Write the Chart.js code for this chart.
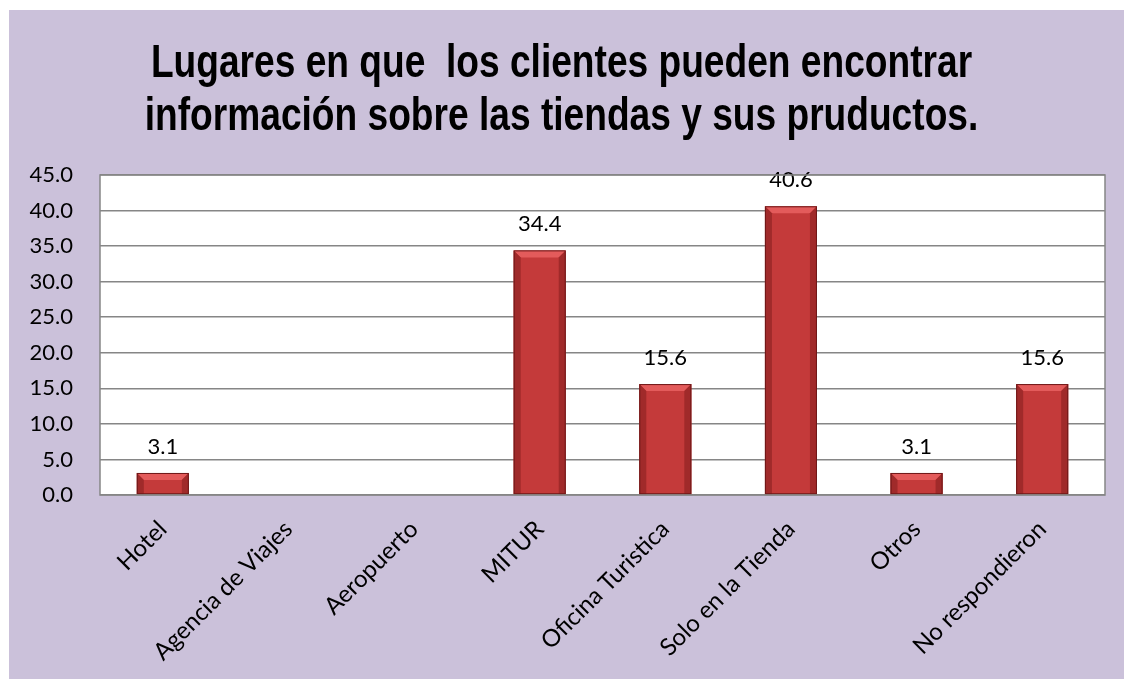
<!DOCTYPE html>
<html>
<head>
<meta charset="utf-8">
<script src="https://cdn.jsdelivr.net/npm/chart.js@4.4.1/dist/chart.umd.min.js"></script>
<style>
  html, body { margin: 0; padding: 0; background: #fff; }
  #wrap { position: absolute; left: 9px; top: 10px; width: 1115px; height: 669px; background: #CBC1DA; }
</style>
</head>
<body>
<div id="wrap"><canvas id="chart" width="1115" height="669"></canvas></div>
<script>
const categories = ['Hotel', 'Agencia de Viajes', 'Aeropuerto', 'MITUR', 'Oficina Turistica', 'Solo en la Tienda', 'Otros', 'No respondieron'];
const percentages = [3.1, 0, 0, 34.4, 15.6, 40.6, 3.1, 15.6];
const titleLines = ['Lugares en que  los clientes pueden encontrar', 'información sobre las tiendas y sus pruductos.'];

// white plot area with grey frame
const plotFrame = {
  id: 'plotFrame',
  beforeDraw(chart) {
    const { ctx, chartArea: a } = chart;
    ctx.save();
    ctx.fillStyle = '#fff';
    ctx.fillRect(a.left, a.top, a.right - a.left, a.bottom - a.top);
    ctx.restore();
  },
  afterDraw(chart) {
    const { ctx, chartArea: a } = chart;
    ctx.save();
    ctx.strokeStyle = '#868686';
    ctx.lineWidth = 1.5;
    ctx.strokeRect(a.left, a.top, a.right - a.left, a.bottom - a.top);
    ctx.restore();
  }
};

// condensed bold title (no narrow font installed, so squeeze it)
const condensedTitle = {
  id: 'condensedTitle',
  afterDraw(chart) {
    const { ctx } = chart;
    const cx = chart.width / 2 - 5;
    ctx.save();
    ctx.font = 'bold 47px "Liberation Sans", Arial, sans-serif';
    ctx.fillStyle = '#000';
    ctx.textAlign = 'center';
    ctx.textBaseline = 'alphabetic';
    ctx.scale(0.79, 1);
    titleLines.forEach((line, i) => ctx.fillText(line, cx / 0.79, 67 + i * 53));
    ctx.restore();
  }
};

// bevel look on bars + value labels
const bevelLabels = {
  id: 'bevelLabels',
  afterDatasetsDraw(chart) {
    const { ctx } = chart;
    const meta = chart.getDatasetMeta(0);
    meta.data.forEach((bar, i) => {
      const v = chart.data.datasets[0].data[i];
      if (!v) return;
      const w = bar.width, l = bar.x - w / 2, r = bar.x + w / 2, t = bar.y, b = bar.base;
      const bv = Math.min(7, (b - t) / 2);
      ctx.save();
      // top light facet
      ctx.fillStyle = '#E35B5B';
      ctx.beginPath();
      ctx.moveTo(l, t); ctx.lineTo(r, t); ctx.lineTo(r - bv, t + bv); ctx.lineTo(l + bv, t + bv);
      ctx.closePath(); ctx.fill();
      // side facets
      ctx.fillStyle = '#A02A2A';
      ctx.beginPath();
      ctx.moveTo(l, t); ctx.lineTo(l + bv, t + bv); ctx.lineTo(l + bv, b); ctx.lineTo(l, b);
      ctx.closePath(); ctx.fill();
      ctx.beginPath();
      ctx.moveTo(r, t); ctx.lineTo(r - bv, t + bv); ctx.lineTo(r - bv, b); ctx.lineTo(r, b);
      ctx.closePath(); ctx.fill();
      ctx.strokeStyle = '#6E1818';
      ctx.lineWidth = 1;
      ctx.strokeRect(l + 0.5, t + 0.5, w - 1, b - t - 1);
      // label
      ctx.fillStyle = '#000';
      ctx.font = '22px Lato';
      ctx.textAlign = 'center';
      ctx.textBaseline = 'alphabetic';
      ctx.fillText(v.toFixed(1), bar.x, t - 19);
      ctx.restore();
    });
  }
};

new Chart(document.getElementById('chart'), {
  type: 'bar',
  data: {
    labels: categories,
    datasets: [{
      data: percentages,
      backgroundColor: '#C43A3A',
      borderWidth: 0,
      categoryPercentage: 1,
      barPercentage: 0.414
    }]
  },
  options: {
    responsive: false,
    animation: false,
    layout: { padding: { left: 0, right: 19, top: 165, bottom: 0 } },
    plugins: {
      legend: { display: false },
      tooltip: { enabled: false },
      title: { display: false }
    },
    scales: {
      x: {
        grid: { display: false, drawTicks: false },
        border: { display: false },
        ticks: {
          color: '#000',
          font: { family: 'Lato', size: 24 },
          minRotation: 45,
          maxRotation: 45,
          padding: 20
        },
        afterFit(scale) { scale.height = 184; }
      },
      y: {
        min: 0,
        max: 45,
        grid: { color: '#868686', lineWidth: 1.5, drawTicks: false },
        border: { display: false },
        ticks: {
          stepSize: 5,
          color: '#000',
          font: { family: 'Lato', size: 22 },
          padding: 27,
          callback: v => v.toFixed(1)
        },
        afterFit(scale) { scale.width = 91; }
      }
    }
  },
  plugins: [plotFrame, bevelLabels, condensedTitle]
});
</script>
</body>
</html>
